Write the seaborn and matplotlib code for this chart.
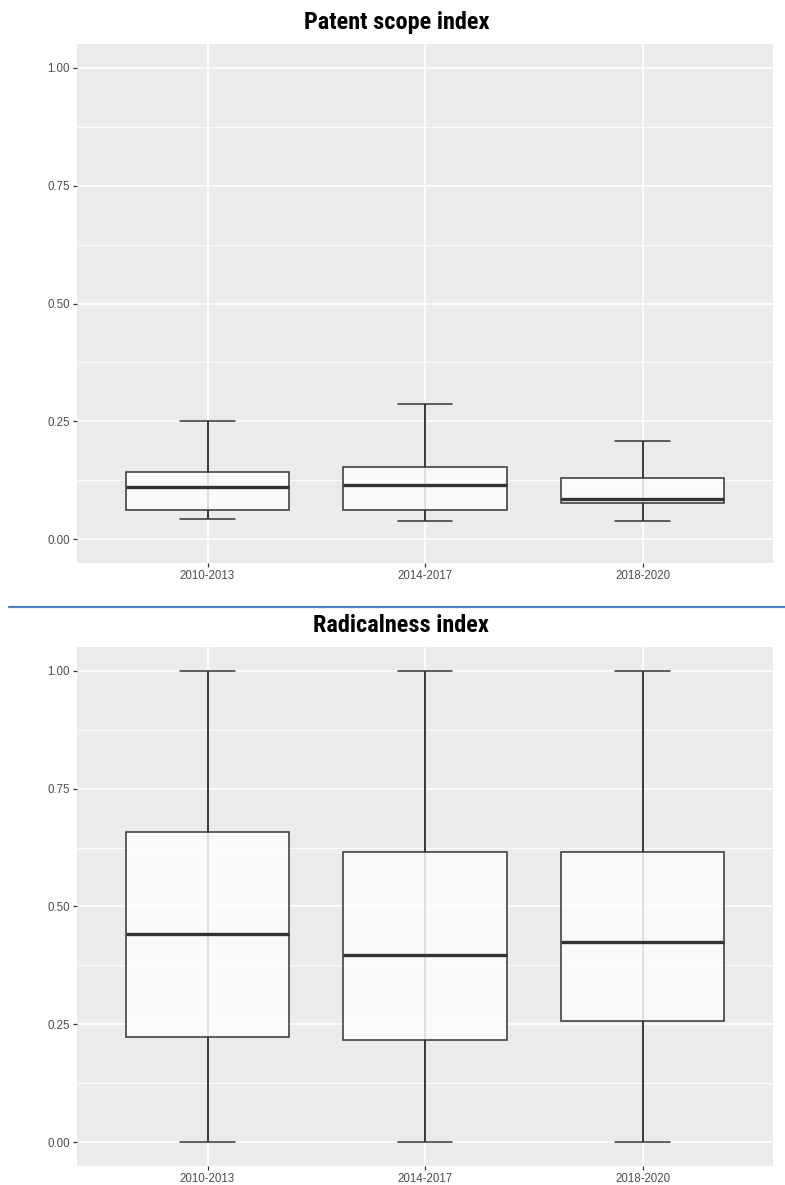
import numpy as np
import pandas as pd
import matplotlib
matplotlib.use("Agg")
import matplotlib.pyplot as plt
from matplotlib.lines import Line2D
from matplotlib.ticker import FixedLocator
from matplotlib import font_manager
import seaborn as sns

# ---- data (five-number summaries) ----
periods = ["2010-2013", "2014-2017", "2018-2020"]

scope_min = [0.044, 0.039, 0.039]
scope_q1 = [0.062, 0.062, 0.077]
scope_med = [0.111, 0.116, 0.085]
scope_q3 = [0.143, 0.154, 0.131]
scope_max = [0.250, 0.287, 0.208]

rad_min = [0.0, 0.0, 0.0]
rad_q1 = [0.223, 0.217, 0.258]
rad_med = [0.442, 0.398, 0.425]
rad_q3 = [0.657, 0.615, 0.616]
rad_max = [1.0, 1.0, 1.0]

y_ticks = [0.0, 0.25, 0.5, 0.75, 1.0]
y_ticklabels = ["0.00", "0.25", "0.50", "0.75", "1.00"]

titles = ["Patent scope index", "Radicalness index"]


def long_frame(mins, q1s, meds, q3s, maxs):
    rows = []
    for p, a, b, c, d, e in zip(periods, mins, q1s, meds, q3s, maxs):
        for v in (a, b, c, d, e):
            rows.append({"period": p, "value": v})
    return pd.DataFrame(rows)


scope_df = long_frame(scope_min, scope_q1, scope_med, scope_q3, scope_max)
rad_df = long_frame(rad_min, rad_q1, rad_med, rad_q3, rad_max)

sns.set_theme(style="darkgrid")
plt.rcParams["font.family"] = ["Liberation Sans", "DejaVu Sans"]

available = {f.name for f in font_manager.fontManager.ttflist}
title_family, title_size = ["Liberation Sans"], 15.5
for cand, size in [("Liberation Sans Narrow", 18), ("Roboto Condensed", 17.5),
                   ("Open Sans Condensed", 17), ("DejaVu Sans Condensed", 15.5)]:
    if cand in available:
        title_family, title_size = [cand], size
        break

LINE = "#333333"
W, H = 785, 1185
fig = plt.figure(figsize=(W / 100, H / 100), dpi=100)
fig.patch.set_facecolor("white")

panel_px = [(44, 563), (647, 1166)]
left_px, right_px = 77, 773


def draw(ax, df, mins, maxs):
    ax.set_facecolor("#EBEBEB")
    ax.set_axisbelow(True)
    x = np.arange(len(periods))
    # errorbar-like line running through the whole range (seen through the box)
    ax.vlines(x, mins, maxs, color=LINE, lw=1.1, zorder=2)
    sns.boxplot(data=df, x="period", y="value", order=periods, ax=ax,
                color="white", linecolor=LINE, linewidth=1.1, width=0.75,
                whis=(0, 100), showfliers=False,
                capwidths=0.25,
                medianprops=dict(color=LINE, linewidth=2.4, zorder=5),
                boxprops=dict(zorder=3),
                whiskerprops=dict(zorder=3),
                capprops=dict(zorder=3))
    for p in ax.patches:
        p.set_facecolor((1, 1, 1, 0.8))
        p.set_edgecolor(LINE)
        p.set_zorder(3)
    ax.set_xlim(-0.6, len(periods) - 0.4)
    ax.set_ylim(-0.05, 1.05)
    ax.set_yticks(y_ticks)
    ax.set_yticklabels(y_ticklabels)
    ax.yaxis.set_minor_locator(FixedLocator([0.125, 0.375, 0.625, 0.875]))
    ax.grid(which="major", color="white", lw=1.2)
    ax.grid(which="minor", axis="y", color="white", lw=0.6)
    ax.grid(which="minor", axis="x", visible=False)
    ax.set_xlabel("")
    ax.set_ylabel("")
    for s in ax.spines.values():
        s.set_visible(False)
    ax.tick_params(which="major", length=3, width=0.9, color=LINE,
                   labelcolor="#4D4D4D", labelsize=8.3, pad=2,
                   bottom=True, left=True)
    ax.tick_params(which="minor", length=0)


datasets = [(scope_df, scope_min, scope_max), (rad_df, rad_min, rad_max)]
for (top, bot), (df, mn, mx) in zip(panel_px, datasets):
    ax = fig.add_axes([left_px / W, 1 - bot / H, (right_px - left_px) / W, (bot - top) / H])
    draw(ax, df, mn, mx)

fig.text(397 / W, 1 - 22 / H, titles[0], ha="center", va="center",
         fontsize=title_size, fontweight="bold", color="black", family=title_family)
fig.text(401 / W, 1 - 625 / H, titles[1], ha="center", va="center",
         fontsize=title_size, fontweight="bold", color="black", family=title_family)

fig.add_artist(Line2D([9 / W, 1.0], [1 - 607 / H, 1 - 607 / H],
                      transform=fig.transFigure, color="#4F81BD", lw=1.6))

fig.savefig("out.png", dpi=100, facecolor="white")
